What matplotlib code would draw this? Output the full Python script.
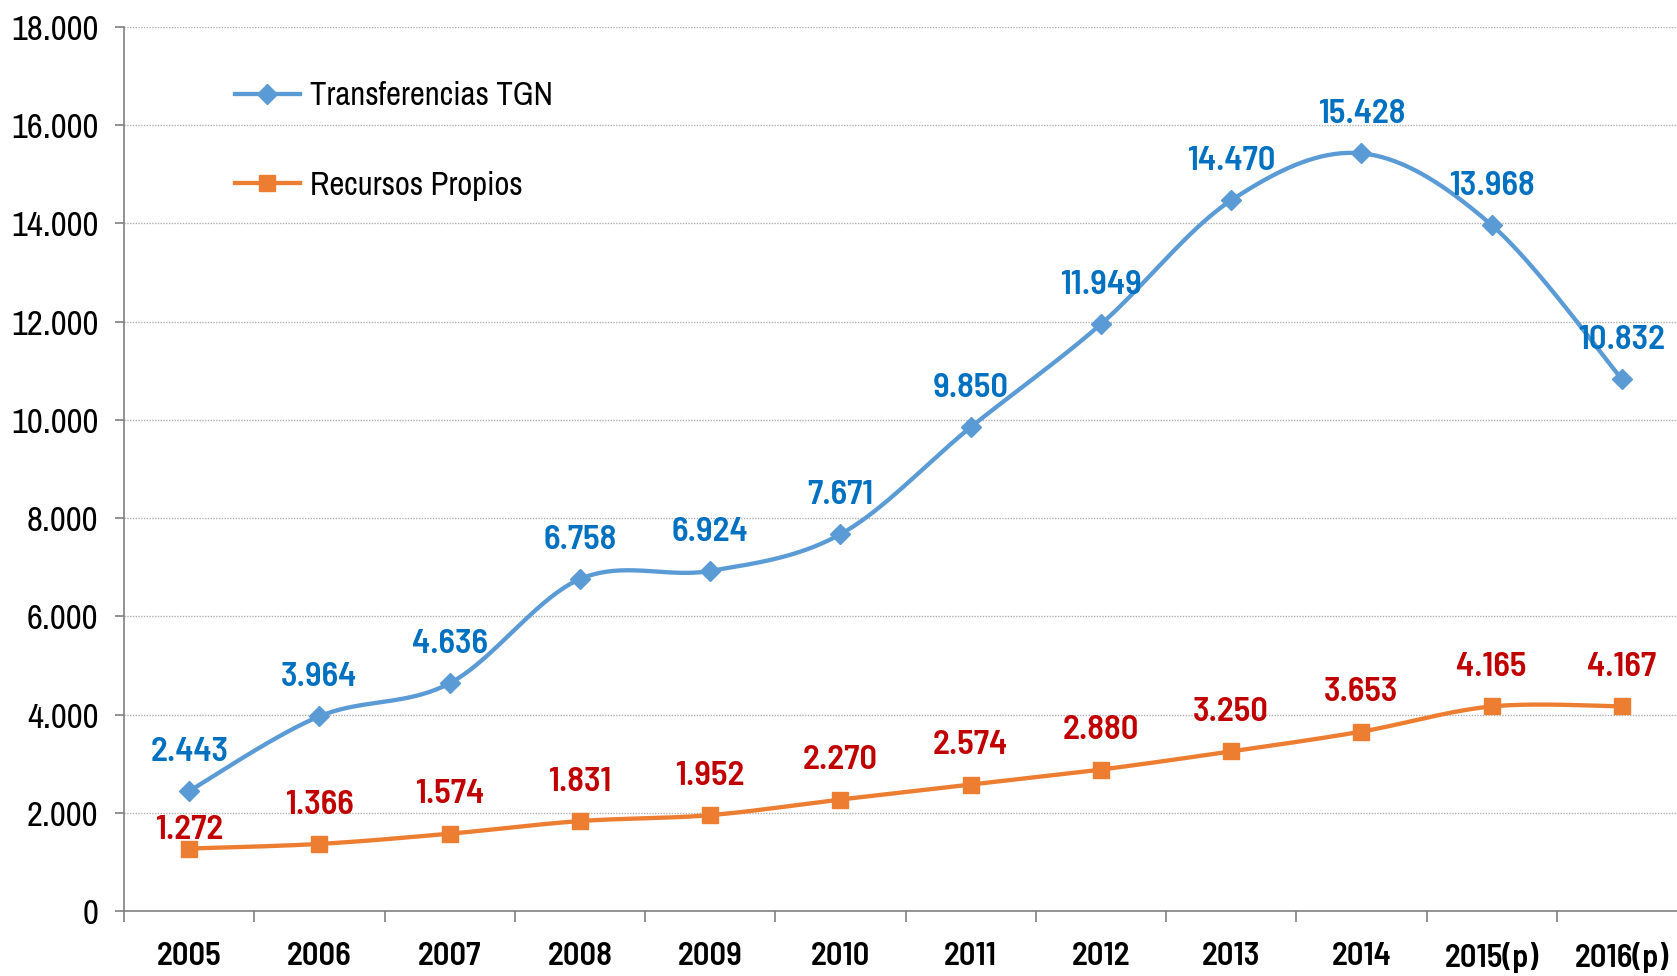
import numpy as np
import matplotlib
matplotlib.use("Agg")
import matplotlib.pyplot as plt
from matplotlib.ticker import FixedLocator, FuncFormatter
from matplotlib.lines import Line2D

plt.rcParams['font.family'] = ['Archivo Narrow', 'Liberation Sans', 'DejaVu Sans']
BOLD_FAMILY = ['Barlow Semi Condensed', 'Archivo Narrow', 'DejaVu Sans']

categories = ["2005", "2006", "2007", "2008", "2009", "2010", "2011", "2012",
              "2013", "2014", "2015(p)", "2016(p)"]
tgn = [2443, 3964, 4636, 6758, 6924, 7671, 9850, 11949, 14470, 15428, 13968, 10832]
propios = [1272, 1366, 1574, 1831, 1952, 2270, 2574, 2880, 3250, 3653, 4165, 4167]
yticks = [0, 2000, 4000, 6000, 8000, 10000, 12000, 14000, 16000, 18000]


def fmt(v):
    return f"{int(v):,}".replace(",", ".")


def smooth(xs, ys, n=40):
    xs = np.asarray(xs, float)
    ys = np.asarray(ys, float)
    P = np.column_stack([xs, ys])
    Pe = np.vstack([P[0], P, P[-1]])
    out = []
    for i in range(len(P) - 1):
        p0, p1, p2, p3 = Pe[i], Pe[i + 1], Pe[i + 2], Pe[i + 3]
        b1 = p1 + (p2 - p0) / 6.0
        b2 = p2 - (p3 - p1) / 6.0
        t = np.linspace(0, 1, n)[:, None]
        seg = ((1 - t) ** 3) * p1 + 3 * ((1 - t) ** 2) * t * b1 + 3 * (1 - t) * t ** 2 * b2 + t ** 3 * p2
        out.append(seg if i == 0 else seg[1:])
    c = np.vstack(out)
    return c[:, 0], c[:, 1]


W, H = 1677, 976
fig = plt.figure(figsize=(W / 100, H / 100), dpi=100)
left, right, bottom, top = 124, 1687, 976 - 911, 976 - 27
ax = fig.add_axes([left / W, bottom / H, (right - left) / W, (top - bottom) / H])

x = np.arange(len(categories))
blue_line = "#5B9BD5"
blue_txt = "#0070C0"
orange_line = "#ED7D31"
red_txt = "#C00000"

sx, sy = smooth(x, tgn)
ax.plot(sx, sy, color=blue_line, lw=3.1, solid_capstyle='round', zorder=3)
ax.plot(x, tgn, linestyle='none', marker='D', ms=10, color=blue_line, zorder=4)
sx2, sy2 = smooth(x, propios)
ax.plot(sx2, sy2, color=orange_line, lw=3.1, solid_capstyle='round', zorder=3)
ax.plot(x, propios, linestyle='none', marker='s', ms=11, color=orange_line, zorder=4)

LBL = 25
for i, v in enumerate(tgn):
    ax.annotate(fmt(v), (x[i], v), xytext=(0, 28), textcoords='offset points',
                ha='center', va='center', color=blue_txt, fontsize=LBL,
                family=BOLD_FAMILY, fontweight='semibold', zorder=5)
for i, v in enumerate(propios):
    off = 13 if i == 0 else 28
    ax.annotate(fmt(v), (x[i], v), xytext=(0, off), textcoords='offset points',
                ha='center', va='center', color=red_txt, fontsize=LBL,
                family=BOLD_FAMILY, fontweight='semibold', zorder=5)

ax.set_xlim(-0.5, len(categories) - 0.5)
ax.set_ylim(0, 18000)
ax.yaxis.set_major_locator(FixedLocator(yticks))
ax.yaxis.set_major_formatter(FuncFormatter(lambda v, p: fmt(v)))
ax.set_xticks(x)
ax.set_xticklabels(categories, fontweight='semibold', family=BOLD_FAMILY)
ax.set_xticks(np.arange(-0.5, len(categories), 1.0), minor=True)
ax.tick_params(axis='x', which='major', length=0, pad=22, labelsize=23.5, labelcolor='black')
ax.tick_params(axis='x', which='minor', length=8, width=1.2, color='#808080', direction='out')
ax.tick_params(axis='y', which='major', length=6.5, width=1.2, color='#808080', pad=12,
               labelsize=25, labelcolor='black')

ax.grid(axis='y', color='#B0B0B0', lw=1.0, linestyle=(0, (1, 1)), zorder=0)
ax.set_axisbelow(True)
for s in ['top', 'right']:
    ax.spines[s].set_visible(False)
for s in ['left', 'bottom']:
    ax.spines[s].set_color('#808080')
    ax.spines[s].set_linewidth(1.2)

handles = [Line2D([0], [0], color=blue_line, lw=3.1, marker='D', ms=10),
           Line2D([0], [0], color=orange_line, lw=3.1, marker='s', ms=11)]
leg = ax.legend(handles, ["Transferencias TGN", "Recursos Propios"], loc='upper left',
                bbox_to_anchor=(0.052, 0.972), frameon=False, fontsize=23.5,
                handlelength=2.0, handletextpad=0.3, labelspacing=1.83)

fig.savefig("out.png", dpi=100, facecolor='white')
